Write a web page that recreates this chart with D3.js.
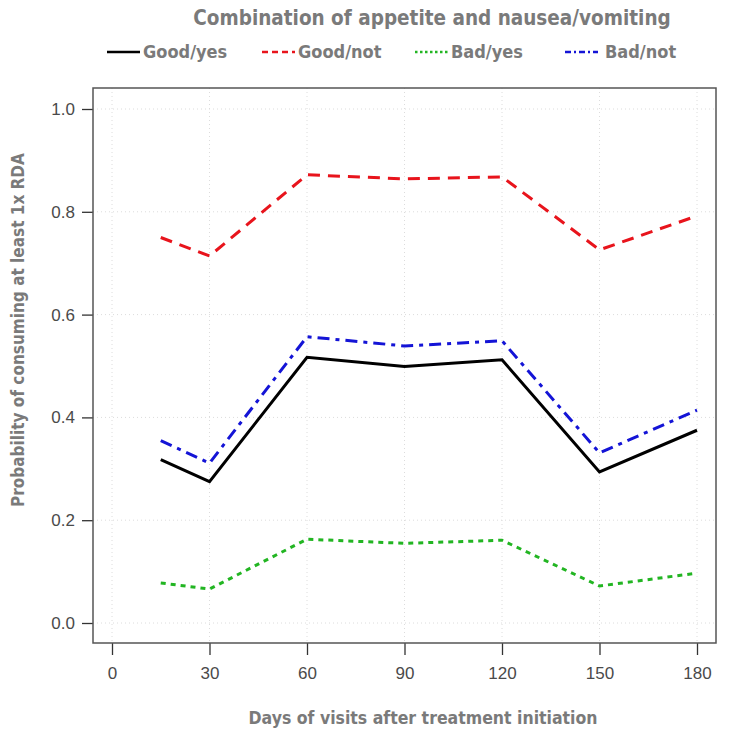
<!DOCTYPE html>
<html>
<head>
<meta charset="utf-8">
<script src="https://cdn.jsdelivr.net/npm/d3@7"></script>
<style>
  body { margin: 0; background: #fff; }
  svg { display: block; }
</style>
</head>
<body>
<div id="chart"></div>
<script>
// days of visit
const days = [15, 30, 60, 90, 120, 150, 180];

// probability of consuming at least 1x RDA, per group
const goodYes = [0.318, 0.275, 0.517, 0.499, 0.512, 0.294, 0.375];
const goodNot = [0.750, 0.714, 0.872, 0.864, 0.868, 0.726, 0.792];
const badYes  = [0.078, 0.066, 0.163, 0.155, 0.161, 0.072, 0.097];
const badNot  = [0.355, 0.311, 0.557, 0.539, 0.549, 0.331, 0.414];

const groupNames = ["Good/yes", "Good/not", "Bad/yes", "Bad/not"];
const xTicks = [0, 30, 60, 90, 120, 150, 180];
const yTicks = [0.0, 0.2, 0.4, 0.6, 0.8, 1.0];

const width = 749, height = 749;
const box = { left: 93, right: 716, top: 88, bottom: 643 };
const textGrey = "#7a7a7a";
const titleFont = "'DejaVu Sans Condensed', 'Liberation Sans Narrow', sans-serif";

const series = [
  { name: groupNames[0], values: goodYes, color: "#000000", dash: null },
  { name: groupNames[1], values: goodNot, color: "#e8141c", dash: "12,8" },
  { name: groupNames[2], values: badYes,  color: "#22b522", dash: "5,5" },
  { name: groupNames[3], values: badNot,  color: "#1414d6", dash: "12,6,4,6" },
];

const x = d3.scaleLinear().domain([0, 180]).range([112, 697]);
const y = d3.scaleLinear().domain([0, 1]).range([623, 109]);

const svg = d3.select("#chart").append("svg")
    .attr("width", width)
    .attr("height", height);

// dotted grid
svg.append("g")
  .selectAll("line")
  .data(xTicks)
  .join("line")
    .attr("x1", d => x(d)).attr("x2", d => x(d))
    .attr("y1", box.top).attr("y2", box.bottom)
    .attr("stroke", "#dcdcdc").attr("stroke-dasharray", "1,3");

svg.append("g")
  .selectAll("line")
  .data(yTicks)
  .join("line")
    .attr("x1", box.left).attr("x2", box.right)
    .attr("y1", d => y(d)).attr("y2", d => y(d))
    .attr("stroke", "#dcdcdc").attr("stroke-dasharray", "1,3");

// axes
const xAxis = g => g
  .attr("transform", `translate(0,${box.bottom})`)
  .call(d3.axisBottom(x).tickValues(xTicks).tickSize(12).tickPadding(12))
  .call(g => g.select(".domain").remove())
  .call(g => g.selectAll(".tick line").attr("stroke", "#333").attr("stroke-width", 1.3))
  .call(g => g.selectAll(".tick text").attr("fill", "#4a4a4a")
      .style("font-family", "'Liberation Sans', Arial, sans-serif").style("font-size", "17px"));

const yAxis = g => g
  .attr("transform", `translate(${box.left},0)`)
  .call(d3.axisLeft(y).tickValues(yTicks).tickFormat(d3.format(".1f")).tickSize(11).tickPadding(7))
  .call(g => g.select(".domain").remove())
  .call(g => g.selectAll(".tick line").attr("stroke", "#333").attr("stroke-width", 1.3))
  .call(g => g.selectAll(".tick text").attr("fill", "#4a4a4a")
      .style("font-family", "'Liberation Sans', Arial, sans-serif").style("font-size", "17px"));

svg.append("g").call(xAxis);
svg.append("g").call(yAxis);

// lines
const line = d3.line()
  .x((d, i) => x(days[i]))
  .y(d => y(d));

svg.append("g")
  .selectAll("path")
  .data(series)
  .join("path")
    .attr("d", d => line(d.values))
    .attr("fill", "none")
    .attr("stroke", d => d.color)
    .attr("stroke-width", 3)
    .attr("stroke-dasharray", d => d.dash);

// plot box
svg.append("rect")
  .attr("x", box.left).attr("y", box.top)
  .attr("width", box.right - box.left).attr("height", box.bottom - box.top)
  .attr("fill", "none").attr("stroke", "#555").attr("stroke-width", 1.5);

// titles
svg.append("text")
  .attr("x", 432).attr("y", 25)
  .attr("text-anchor", "middle")
  .attr("fill", textGrey)
  .style("font-family", titleFont).style("font-weight", "bold").style("font-size", "20.5px")
  .text("Combination of appetite and nausea/vomiting");

svg.append("text")
  .attr("x", 423).attr("y", 724)
  .attr("text-anchor", "middle")
  .attr("fill", textGrey)
  .style("font-family", titleFont).style("font-weight", "bold").style("font-size", "17.5px")
  .text("Days of visits after treatment initiation");

svg.append("text")
  .attr("transform", `translate(24,330) rotate(-90)`)
  .attr("text-anchor", "middle")
  .attr("fill", textGrey)
  .style("font-family", titleFont).style("font-weight", "bold").style("font-size", "17px")
  .text("Probability of consuming at least 1x RDA");

// legend
const legendX = [107, 262, 415, 565];
const legend = svg.append("g")
  .selectAll("g")
  .data(series)
  .join("g")
    .attr("transform", (d, i) => `translate(${legendX[i]},52)`);

legend.append("line")
  .attr("x1", 0).attr("x2", 33)
  .attr("stroke", d => d.color)
  .attr("stroke-width", 2.5)
  .attr("stroke-dasharray", d => d.dash ? d.dash.split(",").map(v => v / 2).join(",") : null);

legend.append("text")
  .attr("x", (d, i) => i === 3 ? 40 : 36).attr("y", 6)
  .attr("fill", textGrey)
  .style("font-family", titleFont).style("font-weight", "bold").style("font-size", "18px")
  .text(d => d.name);
</script>
</body>
</html>
